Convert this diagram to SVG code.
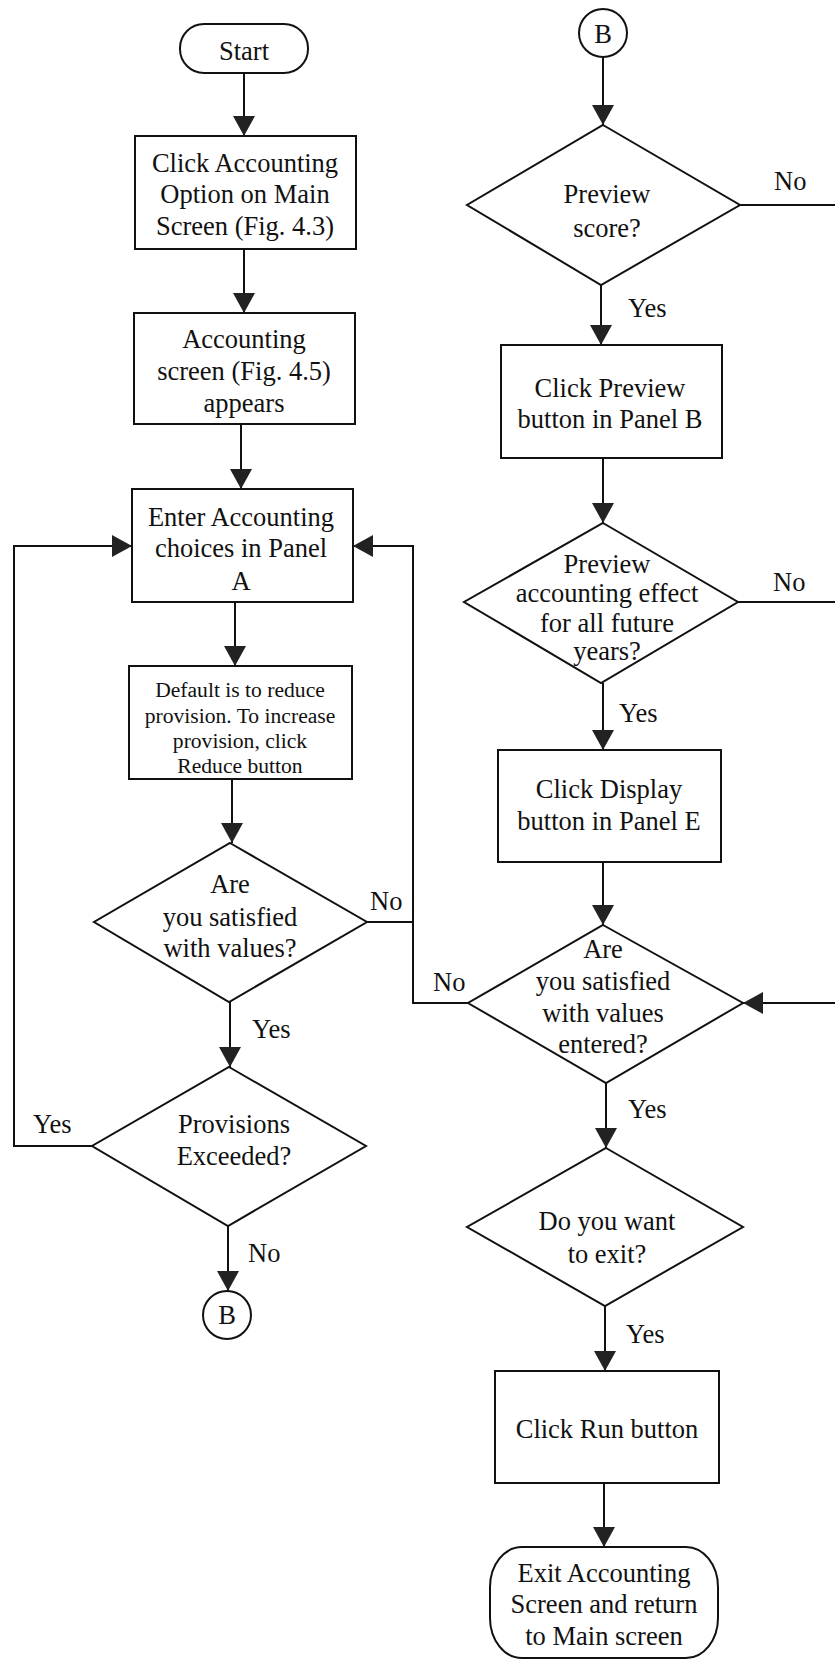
<svg xmlns="http://www.w3.org/2000/svg" width="835" height="1660" viewBox="0 0 835 1660">
<style>
.s{fill:#fff;stroke:#111;stroke-width:2}
.c{fill:none;stroke:#111;stroke-width:2}
text{font-family:"Liberation Serif","Times New Roman",serif;font-size:26.5px;fill:#111}
.m{text-anchor:middle}
.sm{font-size:21.6px}
</style>
<defs>
<marker id="ah" viewBox="0 0 20 22" refX="20" refY="11" markerWidth="20" markerHeight="22" markerUnits="userSpaceOnUse" orient="auto">
<path d="M0,0 L20,11 L0,22 Z" fill="#222"/>
</marker>
</defs>
<rect width="835" height="1660" fill="#fff"/>
<g id="connectors">
<line class="c" x1="244" y1="73" x2="244" y2="136" marker-end="url(#ah)"/>
<line class="c" x1="244" y1="249" x2="244" y2="313" marker-end="url(#ah)"/>
<line class="c" x1="241" y1="424" x2="241" y2="489" marker-end="url(#ah)"/>
<line class="c" x1="235" y1="602" x2="235" y2="666" marker-end="url(#ah)"/>
<line class="c" x1="232" y1="779" x2="232" y2="843" marker-end="url(#ah)"/>
<line class="c" x1="230" y1="1002" x2="230" y2="1067" marker-end="url(#ah)"/>
<line class="c" x1="228" y1="1226" x2="228" y2="1291" marker-end="url(#ah)"/>
<path class="c" d="M92,1146 H14 V546 H132" marker-end="url(#ah)"/>
<path class="c" d="M367,922 H413 V546 H353" marker-end="url(#ah)"/>
<path class="c" d="M468,1003 H413 V922"/>
<line class="c" x1="603" y1="57" x2="603" y2="125" marker-end="url(#ah)"/>
<line class="c" x1="740" y1="205" x2="835" y2="205"/>
<line class="c" x1="601" y1="285" x2="601" y2="345" marker-end="url(#ah)"/>
<line class="c" x1="603" y1="458" x2="603" y2="523" marker-end="url(#ah)"/>
<line class="c" x1="738" y1="602" x2="835" y2="602"/>
<line class="c" x1="603" y1="683" x2="603" y2="750" marker-end="url(#ah)"/>
<line class="c" x1="603" y1="862" x2="603" y2="925" marker-end="url(#ah)"/>
<line class="c" x1="835" y1="1003" x2="743" y2="1003" marker-end="url(#ah)"/>
<line class="c" x1="606" y1="1083" x2="606" y2="1148" marker-end="url(#ah)"/>
<line class="c" x1="605" y1="1306" x2="605" y2="1371" marker-end="url(#ah)"/>
<line class="c" x1="604" y1="1483" x2="604" y2="1547" marker-end="url(#ah)"/>
<text x="370" y="910">No</text>
<text x="252" y="1038">Yes</text>
<text x="33" y="1133">Yes</text>
<text x="248" y="1262">No</text>
<text x="774" y="190">No</text>
<text x="628" y="317">Yes</text>
<text x="773" y="591">No</text>
<text x="619" y="722">Yes</text>
<text x="433" y="991">No</text>
<text x="628" y="1118">Yes</text>
<text x="626" y="1343">Yes</text>
</g>
<g id="start">
<rect class="s" x="180" y="24" width="128" height="49" rx="24" ry="24"/>
<text class="m" x="244" y="60">Start</text>
</g>
<g id="click-accounting">
<rect class="s" x="135" y="136" width="221" height="113"/>
<text class="m" x="245" y="172">Click Accounting</text>
<text class="m" x="245" y="203">Option on Main</text>
<text class="m" x="245" y="235">Screen (Fig. 4.3)</text>
</g>
<g id="accounting-screen">
<rect class="s" x="134" y="313" width="221" height="111"/>
<text class="m" x="244" y="348">Accounting</text>
<text class="m" x="244" y="380">screen (Fig. 4.5)</text>
<text class="m" x="244" y="412">appears</text>
</g>
<g id="enter-choices">
<rect class="s" x="132" y="489" width="221" height="113"/>
<text class="m" x="241" y="526">Enter Accounting</text>
<text class="m" x="241" y="557">choices in Panel</text>
<text class="m" x="241" y="590">A</text>
</g>
<g id="default-reduce">
<rect class="s" x="129" y="666" width="223" height="113"/>
<text class="m sm" x="240" y="697">Default is to reduce</text>
<text class="m sm" x="240" y="723">provision. To increase</text>
<text class="m sm" x="240" y="748">provision, click</text>
<text class="m sm" x="240" y="773">Reduce button</text>
</g>
<g id="satisfied-1">
<polygon class="s" points="230,843 367,922 229,1002 94,922"/>
<text class="m" x="230" y="893">Are</text>
<text class="m" x="230" y="926">you satisfied</text>
<text class="m" x="230" y="957">with values?</text>
</g>
<g id="provisions-exceeded">
<polygon class="s" points="229,1067 366,1146 228,1226 92,1146"/>
<text class="m" x="234" y="1133">Provisions</text>
<text class="m" x="234" y="1165">Exceeded?</text>
</g>
<g id="connector-b-out">
<circle class="s" cx="227" cy="1315" r="24"/>
<text class="m" x="227" y="1324">B</text>
</g>
<g id="connector-b-in">
<circle class="s" cx="603" cy="33" r="24"/>
<text class="m" x="603" y="43">B</text>
</g>
<g id="preview-score">
<polygon class="s" points="603,125 740,205 601,285 467,205"/>
<text class="m" x="607" y="203">Preview</text>
<text class="m" x="607" y="237">score?</text>
</g>
<g id="click-preview">
<rect class="s" x="501" y="345" width="221" height="113"/>
<text class="m" x="610" y="397">Click Preview</text>
<text class="m" x="610" y="428">button in Panel B</text>
</g>
<g id="preview-effect">
<polygon class="s" points="603,523 738,602 601,683 464,602"/>
<text class="m" x="607" y="573">Preview</text>
<text class="m" x="607" y="602">accounting effect</text>
<text class="m" x="607" y="632">for all future</text>
<text class="m" x="607" y="660">years?</text>
</g>
<g id="click-display">
<rect class="s" x="498" y="750" width="223" height="112"/>
<text class="m" x="609" y="798">Click Display</text>
<text class="m" x="609" y="830">button in Panel E</text>
</g>
<g id="satisfied-2">
<polygon class="s" points="603,925 743,1003 606,1083 468,1003"/>
<text class="m" x="603" y="958">Are</text>
<text class="m" x="603" y="990">you satisfied</text>
<text class="m" x="603" y="1022">with values</text>
<text class="m" x="603" y="1053">entered?</text>
</g>
<g id="want-exit">
<polygon class="s" points="606,1148 743,1227 605,1306 467,1227"/>
<text class="m" x="607" y="1230">Do you want</text>
<text class="m" x="607" y="1263">to exit?</text>
</g>
<g id="click-run">
<rect class="s" x="495" y="1371" width="224" height="112"/>
<text class="m" x="607" y="1438">Click Run button</text>
</g>
<g id="exit">
<rect class="s" x="490" y="1547" width="228" height="111" rx="32" ry="40"/>
<text class="m" x="604" y="1582">Exit Accounting</text>
<text class="m" x="604" y="1613">Screen and return</text>
<text class="m" x="604" y="1645">to Main screen</text>
</g>
</svg>
